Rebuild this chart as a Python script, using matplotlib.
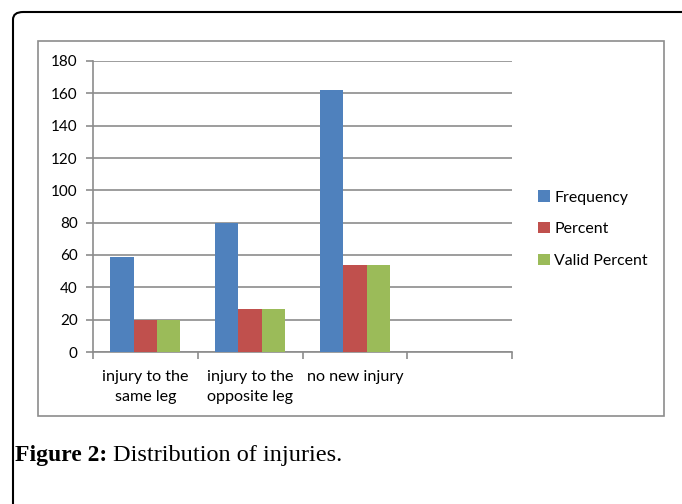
import matplotlib
matplotlib.use("Agg")
import matplotlib.pyplot as plt
from matplotlib.patches import FancyBboxPatch, Rectangle
import numpy as np

categories = ["injury to the\nsame leg", "injury to the\nopposite leg", "no new injury"]
frequency = [59, 80, 162]
percent = [19.6, 26.6, 53.8]
valid_percent = [19.6, 26.6, 53.8]
series_names = ["Frequency", "Percent", "Valid Percent"]
colors = ["#4F81BD", "#C0504D", "#9BBB59"]
yticks = [0, 20, 40, 60, 80, 100, 120, 140, 160, 180]

W, H = 682, 504
fig = plt.figure(figsize=(W / 100, H / 100), dpi=100)
font = "Lato"

# outer rounded frame (top-left corner visible)
frame = FancyBboxPatch((13 / W, 0 - 0.1), 1.2, (H - 12) / H + 0.1,
                       boxstyle="round,pad=0,rounding_size=0.015",
                       transform=fig.transFigure, fill=False,
                       edgecolor="black", linewidth=1.5, clip_on=False)
fig.patches.append(frame)

# inner chart box
inner = Rectangle((38 / W, 1 - 416 / H), (664 - 38) / W, (416 - 41) / H,
                  transform=fig.transFigure, fill=False,
                  edgecolor="#8c8c8c", linewidth=1.2)
fig.patches.append(inner)

ax = fig.add_axes([93 / W, 1 - 352 / H, (512 - 93) / W, (352 - 61) / H])
ax.set_facecolor("none")

n_slots = 4
bw = 1 / 4.5
centers = np.arange(len(categories)) + 0.5
all_series = [frequency, percent, valid_percent]
for i, (vals, name, c) in enumerate(zip(all_series, series_names, colors)):
    ax.bar(centers + (i - 1) * bw, vals, width=bw, color=c, label=name, zorder=3)

ax.set_xlim(0, n_slots)
ax.set_ylim(0, 180)
ax.set_yticks(yticks)
ax.set_yticklabels([str(t) for t in yticks], fontsize=11, family=font)
ax.yaxis.grid(True, color="#8c8c8c", linewidth=1.2, zorder=0)
ax.set_axisbelow(True)

ax.set_xticks(np.arange(n_slots + 1))
ax.set_xticklabels([])
ax.set_xticks(centers, minor=True)
ax.set_xticklabels(categories, minor=True, fontsize=11.6, family=font,
                   linespacing=1.55)
ax.tick_params(axis="x", which="minor", length=0, pad=13)
ax.tick_params(axis="x", which="major", length=5, color="#8c8c8c", width=1.2, direction="out")
ax.tick_params(axis="y", length=5, color="#8c8c8c", width=1.2, direction="out", pad=6)

for s in ["top", "right"]:
    ax.spines[s].set_visible(False)
for s in ["left", "bottom"]:
    ax.spines[s].set_color("#8c8c8c")
    ax.spines[s].set_linewidth(1.2)

leg = fig.legend(loc="upper left", bbox_to_anchor=(532 / W, 1 - 184 / H),
                 frameon=False, prop={"family": font, "size": 11.4},
                 handlelength=0.72, handleheight=0.72, handletextpad=0.3,
                 labelspacing=1.1, borderaxespad=0)

t1 = fig.text(15 / W, 1 - 456 / H, "Figure 2:", fontsize=17, fontweight="bold",
              family="Liberation Serif", va="center", ha="left")
fig.canvas.draw()
bb = t1.get_window_extent()
x2 = (bb.x1 + 6) / W
fig.text(x2, 1 - 456 / H, "Distribution of injuries.", fontsize=17.5,
         family="Liberation Serif", va="center", ha="left")

fig.savefig("out.png", dpi=100)
